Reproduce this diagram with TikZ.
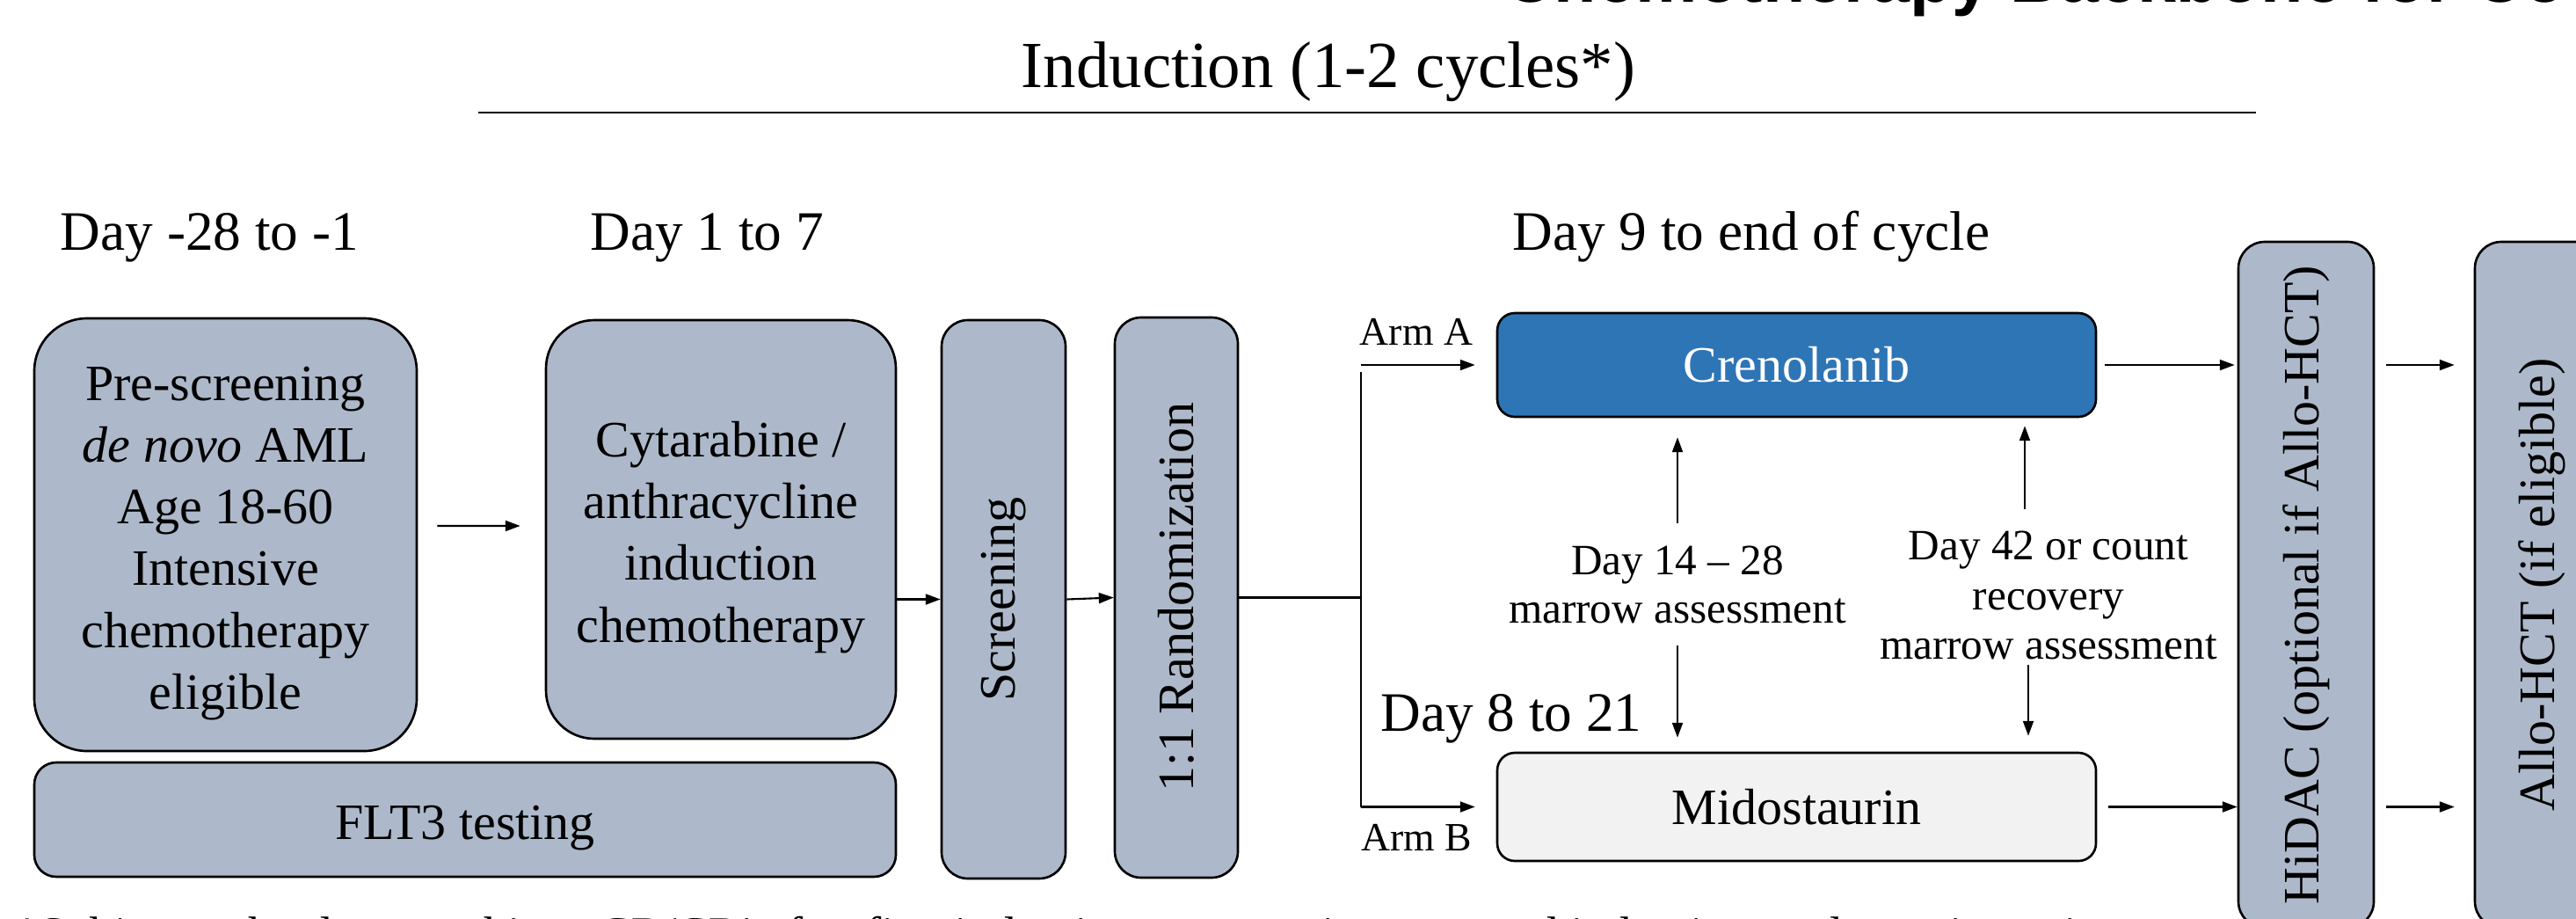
\documentclass[tikz,border=0pt]{standalone}
\usepackage{fontspec}
\setmainfont{Liberation Serif}
\newfontfamily\headfont{Liberation Sans}
\usetikzlibrary{arrows.meta,calc,positioning}
\definecolor{stagegray}{HTML}{ADB9CA}
\definecolor{crenoblue}{HTML}{2E75B6}
\definecolor{midogray}{HTML}{F2F2F2}
\newcommand{\padtop}{\rule{0pt}{16.5pt}}

\begin{document}
\begin{tikzpicture}[
    stage/.style={draw=black, fill=stagegray, line width=0.75pt, align=center, inner sep=0pt, font=\fontsize{16.5}{20}\selectfont},
    upright/.style={stage, rotate=90, rounded corners=0.3cm},
    drug/.style={draw=black, line width=0.75pt, rounded corners=0.2cm, minimum width=6.81cm, inner sep=0pt, font=\fontsize{16.5}{20}\selectfont},
    daylabel/.style={anchor=base, inner sep=0pt, font=\fontsize{18}{21}\selectfont},
    armlabel/.style={anchor=base, inner sep=0pt, font=\fontsize{13}{15}\selectfont},
    marrow/.style={align=center, inner sep=0pt, font=\fontsize{14}{15.6}\selectfont},
    flow/.style={-{Triangle[length=4.8pt,width=3.4pt]}, line width=0.6pt}
  ]
  \useasboundingbox (0,0) rectangle (29.30,10.44);
  \clip (0,0) rectangle (29.30,10.44);

  % headings
  \node[anchor=base west, inner sep=0pt, font=\headfont\bfseries\fontsize{22.5}{26}\selectfont] (title) at (17.10,10.41) {Chemotherapy Backbone for Co};
  \node[anchor=base, inner sep=0pt, font=\fontsize{21.3}{24}\selectfont] (induct) at (15.11,9.44) {Induction (1-2 cycles*)};
  \draw[line width=0.8pt] (5.44,9.16) -- (25.66,9.16);

  \node[daylabel] (dayprescr) at (2.385,7.595) {Day -28 to -1};
  \node[daylabel] (dayinduct) at (8.04,7.595) {Day 1 to 7};
  \node[daylabel] (daylate) at (19.92,7.595) {Day 9 to end of cycle};
  \node[daylabel] (daymido) at (17.19,2.13) {Day 8 to 21};

  % boxes
  \node[stage, rounded corners=0.6cm, minimum width=4.35cm, minimum height=4.92cm] (prescr) at (2.565,4.36)
    {\padtop Pre-screening\\\textit{de novo} AML\\Age 18-60\\Intensive\\chemotherapy\\eligible};
  \node[stage, rounded corners=0.55cm, minimum width=3.98cm, minimum height=4.76cm] (cyta) at (8.20,4.42)
    {\padtop Cytarabine /\\anthracycline\\induction\\chemotherapy};
  \node[stage, rounded corners=0.25cm, minimum width=9.80cm, minimum height=1.30cm] (flt) at (5.29,1.12) {\padtop FLT3 testing};
  \node[upright, minimum width=6.35cm, minimum height=1.41cm] (screen) at (11.415,3.625) {Screening};
  \node[upright, minimum width=6.37cm, minimum height=1.40cm] (rand) at (13.38,3.645) {1:1 Randomization};
  \node[drug, fill=crenoblue, text=white, minimum height=1.18cm] (creno) at (20.435,6.29) {Crenolanib};
  \node[drug, fill=midogray, minimum height=1.23cm] (mido) at (20.435,1.265) {Midostaurin};
  \node[upright, minimum width=7.80cm, minimum height=1.54cm] (hidac) at (26.23,3.79) {HiDAC (optional if Allo-HCT)};
  \node[upright, minimum width=7.80cm, minimum height=1.53cm] (allo) at (28.915,3.79) {Allo-HCT (if eligible)};

  \node[armlabel] (arma) at (16.11,6.52) {Arm A};
  \node[armlabel] (armb) at (16.11,0.77) {Arm B};
  \node[marrow] (early) at (19.08,3.79) {Day 14 – 28\\marrow assessment};
  \node[marrow, font=\fontsize{14}{16.2}\selectfont] (late) at (23.30,3.67) {Day 42 or count\\recovery\\marrow assessment};

  % arrows
  \draw[flow, shorten <=2.2mm, shorten >=2.8mm] ([yshift=1mm]prescr.east) -- ([yshift=0.4mm]cyta.west);
  \draw[flow] (cyta.east |- screen.north) -- (screen.north);
  \draw[flow] (screen.south) -- (rand.north);
  \coordinate (fork) at (15.48,3.61);
  \draw[line width=0.6pt] (rand.south) -- (rand.south -| fork);
  \draw[line width=0.6pt] ([yshift=-0.8mm]fork |- creno.west) -- (fork |- mido.west);
  \draw[flow, shorten >=2.4mm] (fork |- creno.west) -- (creno.west);
  \draw[flow, shorten >=2.4mm] (fork |- mido.west) -- (mido.west);

  \draw[flow, shorten <=2.5mm, shorten >=2.2mm] (early.north) -- (early.north |- creno.south);
  \draw[flow, shorten <=2.4mm, shorten >=1.6mm] (early.south) -- (early.south |- mido.north);
  \draw[flow, shorten <=2.35mm, shorten >=0.9mm] ([xshift=-2.7mm]late.north) -- ([xshift=-2.7mm]late.north |- creno.south);
  \draw[flow, shorten <=0.5mm, shorten >=1.8mm] ([xshift=-2.3mm]late.south) -- ([xshift=-2.3mm]late.south |- mido.north);

  \draw[flow, shorten <=0.9mm, shorten >=0.3mm] (creno.east) -- (creno.east -| hidac.north);
  \draw[flow, shorten <=1.3mm] (mido.east) -- (mido.east -| hidac.north);
  \draw[flow, shorten <=1.3mm, shorten >=2.2mm] (hidac.south |- creno.east) -- (allo.north |- creno.east);
  \draw[flow, shorten <=1.3mm, shorten >=2.2mm] (hidac.south |- mido.east) -- (allo.north |- mido.east);

  % footnote, cut by the page edge
  \node[anchor=base west, inner sep=0pt, font=\fontsize{15.5}{18}\selectfont] (note) at (0.17,-0.36)
    {*Subjects who do not achieve CR/CRi after first induction may receive a second induction cycle per investigator};
\end{tikzpicture}
\end{document}
